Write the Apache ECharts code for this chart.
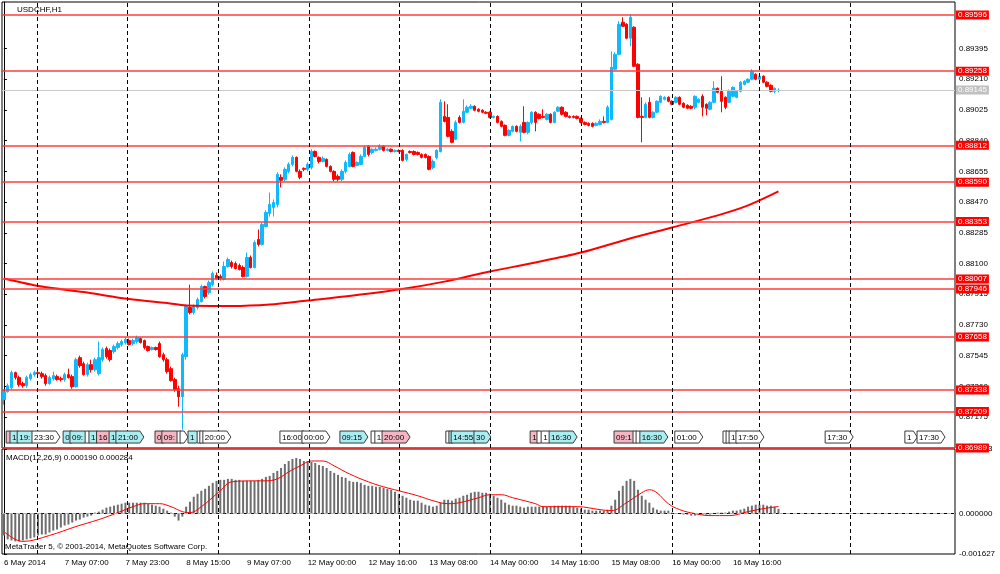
<!DOCTYPE html>
<html>
<head>
<meta charset="utf-8">
<script src="https://cdn.jsdelivr.net/npm/echarts@6/dist/echarts.min.js"></script>
<style>
  html, body { margin: 0; background: #fff; }
  #chart { width: 1000px; height: 574px; }
</style>
</head>
<body>
<div id="chart"></div>
<script>
// USDCHF H1, one bar per hour from 6 May 2014 15:00
const opens = [0.87280,0.87328,0.87352,0.87443,0.87413,0.87377,0.87364,0.87407,0.87431,0.87443,
  0.87437,0.87425,0.87377,0.87407,0.87419,0.87407,0.87401,0.87431,0.87419,0.87358,
  0.87533,0.87497,0.87431,0.87491,0.87461,0.87437,0.87521,0.87588,0.87576,0.87569,
  0.87594,0.87612,0.87624,0.87636,0.87618,0.87630,0.87648,0.87636,0.87600,0.87582,
  0.87594,0.87618,0.87551,0.87521,0.87467,0.87401,0.87346,0.87298,0.87539,0.87835,
  0.87805,0.87835,0.87871,0.87961,0.87925,0.87973,0.88028,0.88022,0.88004,0.88082,
  0.88106,0.88100,0.88088,0.88076,0.88022,0.88136,0.88076,0.88245,0.88215,0.88323,
  0.88402,0.88438,0.88456,0.88619,0.88607,0.88655,0.88697,0.88739,0.88655,0.88673,
  0.88667,0.88679,0.88775,0.88739,0.88715,0.88727,0.88685,0.88655,0.88625,0.88607,
  0.88655,0.88685,0.88769,0.88691,0.88697,0.88745,0.88806,0.88769,0.88781,0.88788,
  0.88806,0.88781,0.88788,0.88775,0.88781,0.88781,0.88727,0.88775,0.88775,0.88769,
  0.88757,0.88757,0.88745,0.88679,0.88739,0.88775,0.88986,0.88980,0.88896,0.88848,
  0.88980,0.88950,0.89011,0.89035,0.89047,0.89029,0.89023,0.89011,0.89011,0.88980,
  0.88986,0.88956,0.88932,0.88872,0.88896,0.88926,0.88890,0.88950,0.88890,0.88950,
  0.89011,0.88999,0.88986,0.88968,0.88999,0.88950,0.89017,0.89041,0.89011,0.88986,
  0.88986,0.88986,0.88974,0.88950,0.88944,0.88944,0.88932,0.88938,0.88956,0.88950,
  0.88968,0.89270,0.89360,0.89553,0.89541,0.89457,0.89523,0.89300,0.88986,0.88980,
  0.89071,0.88980,0.89011,0.89071,0.89089,0.89101,0.89077,0.89071,0.89101,0.89065,
  0.89053,0.89047,0.89041,0.89071,0.89107,0.89059,0.89029,0.89071,0.89155,0.89137,
  0.89101,0.89071,0.89107,0.89101,0.89137,0.89179,0.89192,0.89210,0.89240,0.89210,
  0.89228,0.89192,0.89173,0.89137,0.89143];
const closes = [0.87328,0.87364,0.87443,0.87413,0.87370,0.87364,0.87413,0.87431,0.87443,0.87437,
  0.87419,0.87377,0.87413,0.87425,0.87401,0.87401,0.87431,0.87413,0.87358,0.87521,
  0.87485,0.87431,0.87491,0.87461,0.87521,0.87533,0.87582,0.87539,0.87521,0.87600,
  0.87618,0.87630,0.87642,0.87612,0.87636,0.87654,0.87624,0.87594,0.87576,0.87594,
  0.87582,0.87539,0.87521,0.87449,0.87395,0.87340,0.87298,0.87551,0.87841,0.87805,
  0.87841,0.87883,0.87961,0.87901,0.87985,0.88040,0.88010,0.88010,0.88082,0.88124,
  0.88082,0.88070,0.88064,0.88022,0.88136,0.88076,0.88227,0.88215,0.88335,0.88408,
  0.88456,0.88468,0.88637,0.88601,0.88667,0.88697,0.88739,0.88655,0.88619,0.88667,
  0.88697,0.88775,0.88745,0.88715,0.88733,0.88685,0.88655,0.88607,0.88607,0.88655,
  0.88709,0.88757,0.88685,0.88709,0.88745,0.88800,0.88757,0.88788,0.88788,0.88806,
  0.88781,0.88788,0.88775,0.88781,0.88775,0.88721,0.88757,0.88769,0.88757,0.88757,
  0.88739,0.88739,0.88667,0.88715,0.88781,0.89071,0.88956,0.88866,0.88830,0.88950,
  0.88950,0.89017,0.89041,0.89047,0.89023,0.89017,0.89011,0.89005,0.88980,0.88986,
  0.88950,0.88926,0.88872,0.88902,0.88926,0.88896,0.88926,0.88890,0.88950,0.89011,
  0.88950,0.88974,0.88980,0.88999,0.88950,0.89011,0.89041,0.88999,0.88986,0.88980,
  0.88980,0.88974,0.88950,0.88938,0.88932,0.88926,0.88944,0.88956,0.88950,0.89041,
  0.89282,0.89360,0.89541,0.89529,0.89457,0.89583,0.89288,0.88980,0.88980,0.89059,
  0.88980,0.89011,0.89077,0.89107,0.89101,0.89077,0.89059,0.89101,0.89059,0.89041,
  0.89035,0.89035,0.89107,0.89089,0.89041,0.89035,0.89071,0.89155,0.89131,0.89077,
  0.89041,0.89137,0.89161,0.89137,0.89192,0.89198,0.89210,0.89258,0.89210,0.89228,
  0.89192,0.89167,0.89137,0.89155,0.89145];
const lows = [0.87250,0.87322,0.87340,0.87401,0.87358,0.87352,0.87352,0.87395,0.87419,0.87425,
  0.87407,0.87364,0.87370,0.87395,0.87395,0.87389,0.87389,0.87407,0.87346,0.87352,
  0.87473,0.87425,0.87419,0.87443,0.87449,0.87425,0.87509,0.87527,0.87509,0.87557,
  0.87582,0.87600,0.87612,0.87606,0.87606,0.87618,0.87618,0.87582,0.87569,0.87576,
  0.87576,0.87533,0.87509,0.87437,0.87389,0.87328,0.87238,0.87099,0.87521,0.87793,
  0.87793,0.87823,0.87865,0.87889,0.87913,0.87961,0.88004,0.87998,0.87998,0.88076,
  0.88070,0.88064,0.88058,0.88016,0.88016,0.88070,0.88070,0.88203,0.88209,0.88317,
  0.88383,0.88383,0.88438,0.88558,0.88595,0.88643,0.88685,0.88649,0.88607,0.88655,
  0.88655,0.88667,0.88739,0.88703,0.88709,0.88679,0.88649,0.88595,0.88595,0.88595,
  0.88643,0.88679,0.88679,0.88685,0.88691,0.88739,0.88745,0.88757,0.88775,0.88781,
  0.88775,0.88775,0.88769,0.88769,0.88769,0.88715,0.88715,0.88763,0.88751,0.88751,
  0.88733,0.88733,0.88661,0.88667,0.88727,0.88769,0.88950,0.88860,0.88824,0.88842,
  0.88944,0.88944,0.89005,0.89029,0.89017,0.89011,0.89005,0.88999,0.88974,0.88974,
  0.88944,0.88920,0.88866,0.88866,0.88890,0.88890,0.88836,0.88884,0.88878,0.88938,
  0.88896,0.88968,0.88974,0.88962,0.88944,0.88944,0.89011,0.88992,0.88980,0.88974,
  0.88974,0.88968,0.88944,0.88932,0.88926,0.88920,0.88926,0.88932,0.88944,0.88944,
  0.88962,0.89264,0.89354,0.89523,0.89451,0.89409,0.89282,0.88974,0.88830,0.88974,
  0.88974,0.88974,0.89005,0.89065,0.89083,0.89071,0.89053,0.89065,0.89053,0.89035,
  0.89029,0.89029,0.89029,0.89065,0.88986,0.88992,0.89023,0.89065,0.89125,0.89011,
  0.89029,0.89065,0.89101,0.89095,0.89131,0.89173,0.89185,0.89204,0.89204,0.89204,
  0.89185,0.89161,0.89131,0.89125,0.89131];
const highs = [0.87340,0.87377,0.87455,0.87449,0.87425,0.87389,0.87425,0.87443,0.87455,0.87455,
  0.87449,0.87437,0.87425,0.87449,0.87431,0.87419,0.87443,0.87467,0.87431,0.87533,
  0.87545,0.87509,0.87503,0.87521,0.87533,0.87630,0.87594,0.87600,0.87588,0.87612,
  0.87630,0.87642,0.87654,0.87648,0.87648,0.87666,0.87654,0.87642,0.87606,0.87600,
  0.87600,0.87630,0.87563,0.87533,0.87479,0.87413,0.87364,0.87563,0.87853,0.87973,
  0.87853,0.87895,0.87973,0.87967,0.87998,0.88052,0.88046,0.88034,0.88112,0.88136,
  0.88118,0.88112,0.88100,0.88088,0.88166,0.88148,0.88239,0.88305,0.88347,0.88420,
  0.88528,0.88486,0.88649,0.88637,0.88679,0.88709,0.88751,0.88745,0.88667,0.88679,
  0.88709,0.88788,0.88781,0.88745,0.88745,0.88733,0.88691,0.88661,0.88637,0.88667,
  0.88721,0.88769,0.88775,0.88715,0.88757,0.88812,0.88812,0.88794,0.88800,0.88818,
  0.88812,0.88794,0.88794,0.88788,0.88788,0.88788,0.88763,0.88781,0.88781,0.88775,
  0.88763,0.88763,0.88751,0.88727,0.88788,0.89089,0.89077,0.89059,0.88908,0.88962,
  0.88992,0.89089,0.89053,0.89059,0.89053,0.89035,0.89029,0.89017,0.89017,0.88992,
  0.88992,0.88962,0.88938,0.88908,0.88932,0.88932,0.88938,0.89047,0.88956,0.89017,
  0.89017,0.89005,0.89029,0.89005,0.89005,0.89017,0.89047,0.89047,0.89017,0.88992,
  0.88992,0.88992,0.88980,0.88956,0.88950,0.88950,0.88950,0.88968,0.88986,0.89053,
  0.89378,0.89372,0.89559,0.89583,0.89547,0.89602,0.89529,0.89306,0.89101,0.89071,
  0.89101,0.89017,0.89083,0.89113,0.89107,0.89107,0.89083,0.89107,0.89107,0.89071,
  0.89059,0.89053,0.89113,0.89095,0.89119,0.89065,0.89077,0.89198,0.89161,0.89228,
  0.89107,0.89149,0.89167,0.89143,0.89198,0.89204,0.89216,0.89270,0.89246,0.89234,
  0.89234,0.89198,0.89179,0.89161,0.89155];

// red moving average, read at a few bars
const maBars = [0,10,21,33,43,48,60,70,80,92,104,116,128,140,152,164,176,188,196,204];
const maValues = [0.88010,0.87961,0.87928,0.87886,0.87862,0.87847,0.87844,0.87853,0.87877,0.87907,
  0.87943,0.87991,0.88052,0.88106,0.88166,0.88245,0.88317,0.88390,0.88450,0.88534];

// MACD(12,26,9) histogram, one per bar
const macdMain = [-0.00088,-0.00104,-0.00108,-0.00112,-0.00112,-0.00108,-0.00104,-0.001,-0.00096,-0.00088,
  -0.00084,-0.00084,-0.00076,-0.00068,-0.00064,-0.00056,-0.00048,-0.00044,-0.00036,-0.00028,
  -0.00024,-0.00016,-0.00012,-0.00008,0.00004,0.00008,0.00016,0.00024,0.00028,0.00032,
  0.00036,0.0004,0.00044,0.00044,0.00044,0.00044,0.00044,0.00044,0.0004,0.00036,
  0.00032,0.00028,0.0002,0.00012,0.00004,-0.00012,-0.00028,-0.00012,0.00028,0.00048,
  0.00068,0.0008,0.00092,0.001,0.00112,0.00124,0.00132,0.00136,0.00136,0.0014,
  0.0014,0.00136,0.00136,0.00132,0.00132,0.00132,0.00132,0.00136,0.0014,0.00148,
  0.00152,0.00164,0.00172,0.00184,0.002,0.00212,0.0022,0.00224,0.0022,0.00212,
  0.00212,0.00208,0.00204,0.00196,0.00192,0.00184,0.00172,0.00164,0.00156,0.00148,
  0.00144,0.00132,0.00128,0.00128,0.00124,0.00116,0.00112,0.00112,0.00108,0.00108,
  0.00104,0.001,0.00096,0.00088,0.0008,0.00072,0.00064,0.00056,0.00052,0.00052,
  0.00044,0.00036,0.00032,0.00028,0.00032,0.00044,0.00056,0.00056,0.00052,0.0006,
  0.00064,0.00072,0.00076,0.00084,0.00088,0.00088,0.00084,0.00084,0.0008,0.00072,
  0.00064,0.00056,0.00044,0.00036,0.00032,0.00032,0.00028,0.00024,0.00028,0.00028,
  0.00028,0.00028,0.00028,0.00028,0.00028,0.00032,0.00032,0.00032,0.00032,0.00032,
  0.00028,0.00024,0.0002,0.00016,0.00016,0.00012,0.00012,0.00012,0.00012,0.00016,
  0.00032,0.00056,0.00092,0.00112,0.00132,0.0014,0.00132,0.00096,0.00072,0.00056,
  0.00044,0.00024,0.00016,0.00012,0.00012,0.00012,0.00004,0.00001,-0.00001,-0.00004,
  -0.00004,-0.00008,-0.00008,-0.00004,-0.00004,-0.00004,-0.00004,0.00001,0.00004,0.00004,
  0.00004,0.00008,0.00012,0.00012,0.00016,0.0002,0.00028,0.00032,0.00036,0.00036,
  0.00036,0.00032,0.00032,0.00028,0.00019];
// signal line, read at a few bars
const sigBars = [0,5,12,19,25,30,34,37,41,44,47,49,52,57,60,66,69,72,75,78,81,84,87,91,96,100,
  104,109,113,117,120,125,128,131,134,140,142,151,157,160,164,168,170,172,175,178,182,186,191,196,200,204];
const sigValues = [-0.00072,-0.00112,-0.00088,-0.00052,-0.00024,0.00004,0.00028,0.0004,0.0004,0.00028,
  0.00008,0.00004,0.00028,0.00092,0.00128,0.00132,0.00132,0.0014,0.00168,0.00192,0.00212,0.00212,
  0.00192,0.0016,0.00128,0.00108,0.00092,0.00072,0.00052,0.0004,0.00044,0.00064,0.00076,0.00076,
  0.00064,0.0004,0.00028,0.00028,0.00016,0.00012,0.00044,0.00084,0.00096,0.00084,0.0004,0.00016,
  0,-0.00008,-0.00008,0.00008,0.0002,0.000284];

// horizontal levels and last bid
const levels = [0.89596,0.89258,0.88812,0.88590,0.88353,0.88007,0.87946,0.87658,0.87338,0.87209,0.86989];
const bid = 0.89145;

// tick labels
const priceTicks = [0.89395,0.89210,0.89025,0.88840,0.88655,0.88470,0.88285,0.88100,0.87915,0.87730,0.87545,0.87360,0.87175];
const macdTicks = [0.002603,0,-0.001627];
const timeLabels = ['6 May 2014','7 May 07:00','7 May 23:00','8 May 15:00','9 May 07:00','12 May 00:00',
  '12 May 16:00','13 May 08:00','14 May 00:00','14 May 16:00','15 May 08:00','16 May 00:00','16 May 16:00'];

// day separators (bar position)
const dayLines = [8.7,32.5,56.5,80.5,104,128,152,176,199,223];

// calendar events at the bottom of the price window
const eventBars = [0.6,1.6,3.5,7.4,15.6,17.4,21.4,22.4,24.4,27.7,29.5,39.8,41.6,45.6,46.4,48.5,50.9,51.6,52.4,
  72.7,78.5,88.5,96.7,97.7,99.6,116.4,117.2,117.8,123.8,138.6,140.4,141.5,143.6,160.7,165.7,166.5,167.5,
  176.7,189.4,190.2,191,192.8,216.3,237.3,240.5];
const eventText = ['','1','19:','23:30','0','09:','','1','16','1','21:00','0','09:','','','1','','','20:00',
  '16:00','00:00','09:15','','1','20:00','','','14:55','30','1','','1','16:30','09:1','','','16:30',
  '01:00','','','1','17:50','17:30','1','17:30'];
const eventKind = ['p','c','c','w','c','c','w','c','p','c','c','p','p','w','w','c','w','w','w',
  'w','w','c','w','w','p','w','c','c','c','p','w','w','c','p','w','w','c',
  'w','w','w','w','w','w','w','w'];

const SLOTS = 251;
const FONT = 'Liberation Sans';
const BULL = '#0fb9ff';
const BEAR = '#ff0000';
const EVENT_PRICE = 0.87055;
const kindFill = { c: '#a8eef0', p: '#f5b5c2', w: '#ffffff' };

const cats = Array.from({ length: SLOTS }, (_, i) => String(i));
const candles = opens.map((o, i) => [o, closes[i], lows[i], highs[i]]);
const maLine = maBars.map((b, i) => [b, maValues[i]]);
const sigLine = sigBars.map((b, i) => [b, sigValues[i]]);
const showLabel = idx => idx % 16 === 0 && idx / 16 < timeLabels.length;

function textWidth(t) {
  let w = 0;
  for (const ch of t) w += ch === ':' ? 2.2 : 4.45;
  return w;
}

function priceLabel(bg) {
  return { show: true, position: 'end', distance: 1, formatter: p => p.value.toFixed(5),
    color: '#fff', backgroundColor: bg, padding: [1, 2, 0, 2], fontSize: 8, fontFamily: FONT };
}

const chart = echarts.init(document.getElementById('chart'));
const txt = { fontSize: 8, fontWeight: 'normal', color: '#000', fontFamily: FONT };

chart.setOption({
  animation: false,
  backgroundColor: '#fff',
  title: [
    { text: 'USDCHF,H1', left: 17, top: 6, padding: 0, textStyle: txt },
    { text: 'MACD(12,26,9) 0.000190 0.000284', left: 6, top: 454, padding: 0, textStyle: txt },
    { text: 'MetaTrader 5, © 2001-2014, MetaQuotes Software Corp.', left: 5, top: 543, padding: 0, textStyle: txt }
  ],
  grid: [
    { left: 2, right: 45, top: 2, height: 446, show: true, borderColor: '#000', borderWidth: 1 },
    { left: 2, right: 45, top: 449, height: 105, show: true, borderColor: '#000', borderWidth: 1 }
  ],
  xAxis: [
    { type: 'category', gridIndex: 0, data: cats, show: false },
    { type: 'category', gridIndex: 1, data: cats,
      axisLine: { lineStyle: { color: '#000' } },
      axisTick: { interval: showLabel, alignWithLabel: true, length: 3, lineStyle: { color: '#000' } },
      axisLabel: { interval: showLabel, formatter: (v, idx) => timeLabels[idx / 16] || '',
        align: 'left', margin: 5, fontSize: 8, color: '#000', fontFamily: FONT },
      splitLine: { show: false } },
    { type: 'value', gridIndex: 0, min: -0.5, max: SLOTS - 0.5, show: false },
    { type: 'value', gridIndex: 1, min: -0.5, max: SLOTS - 0.5, show: false }
  ],
  yAxis: [
    { type: 'value', gridIndex: 0, position: 'right', min: 0.86989, max: 0.89675,
      splitLine: { show: false },
      axisLine: { show: true, lineStyle: { color: '#000' } },
      axisTick: { show: true, length: 3, customValues: priceTicks, lineStyle: { color: '#000' } },
      axisLabel: { customValues: priceTicks, formatter: v => v.toFixed(5), margin: 4,
        fontSize: 8, color: '#000', fontFamily: FONT } },
    { type: 'value', gridIndex: 1, position: 'right', min: -0.001627, max: 0.002603,
      splitLine: { show: false },
      axisLine: { show: true, lineStyle: { color: '#000' } },
      axisTick: { show: true, length: 3, customValues: macdTicks, lineStyle: { color: '#000' } },
      axisLabel: { customValues: macdTicks, formatter: v => v.toFixed(6), margin: 4,
        fontSize: 8, color: '#000', fontFamily: FONT } }
  ],
  series: [
    {
      type: 'candlestick', xAxisIndex: 0, yAxisIndex: 0, data: candles, barWidth: 3,
      itemStyle: { color: BULL, color0: BEAR, borderColor: BULL, borderColor0: BEAR, borderWidth: 1 },
      markLine: {
        silent: true, symbol: 'none', animation: false, precision: 5,
        data: levels.map(v => ({
          yAxis: v,
          lineStyle: { color: '#ff3c3c', width: 1.5, type: 'solid' },
          label: priceLabel('#ff0000')
        })).concat([{
          yAxis: bid,
          lineStyle: { color: '#c8c8c8', width: 1, type: 'solid' },
          label: priceLabel('#c0c0c0')
        }])
      }
    },
    {
      type: 'line', xAxisIndex: 2, yAxisIndex: 0, data: maLine, smooth: 0.3, symbol: 'none',
      lineStyle: { color: '#ff0000', width: 2 },
      markLine: {
        silent: true, symbol: 'none', label: { show: false }, precision: 3,
        lineStyle: { color: '#000', width: 1, type: [4, 3] },
        data: dayLines.map(v => ({ xAxis: v }))
      }
    },
    {
      type: 'custom', xAxisIndex: 2, yAxisIndex: 0, z: 5,
      data: eventBars.map(b => [b, EVENT_PRICE]),
      renderItem: (params, api) => {
        const i = params.dataIndex;
        const p = api.coord([api.value(0), api.value(1)]);
        const t = eventText[i];
        const w = t ? textWidth(t) + 4 : 4;
        const x0 = p[0], y0 = p[1] - 6, y1 = p[1] + 6;
        return {
          type: 'group',
          children: [
            { type: 'polygon',
              shape: { points: [[x0, y0], [x0 + w, y0], [x0 + w + 4, p[1]], [x0 + w, y1], [x0, y1]] },
              style: { fill: kindFill[eventKind[i]], stroke: '#3a3a3a', lineWidth: 1 } },
            { type: 'text',
              style: { text: t, x: x0 + 2, y: p[1] + 0.5, verticalAlign: 'middle',
                font: '8px "Liberation Sans"', fill: '#000' } }
          ]
        };
      }
    },
    {
      type: 'bar', xAxisIndex: 1, yAxisIndex: 1, data: macdMain, barWidth: 2,
      itemStyle: { color: '#6e6e6e' }
    },
    {
      type: 'line', xAxisIndex: 3, yAxisIndex: 1, data: sigLine, smooth: 0.4, symbol: 'none',
      lineStyle: { color: '#ff0000', width: 1 },
      markLine: {
        silent: true, symbol: 'none', label: { show: false }, precision: 6,
        data: dayLines.map(v => ({ xAxis: v, lineStyle: { color: '#000', width: 1, type: [4, 3] } }))
          .concat([{ yAxis: 0, lineStyle: { color: '#b4b4b4', width: 1, type: [4, 3] } }])
      }
    }
  ]
});
</script>
</body>
</html>
